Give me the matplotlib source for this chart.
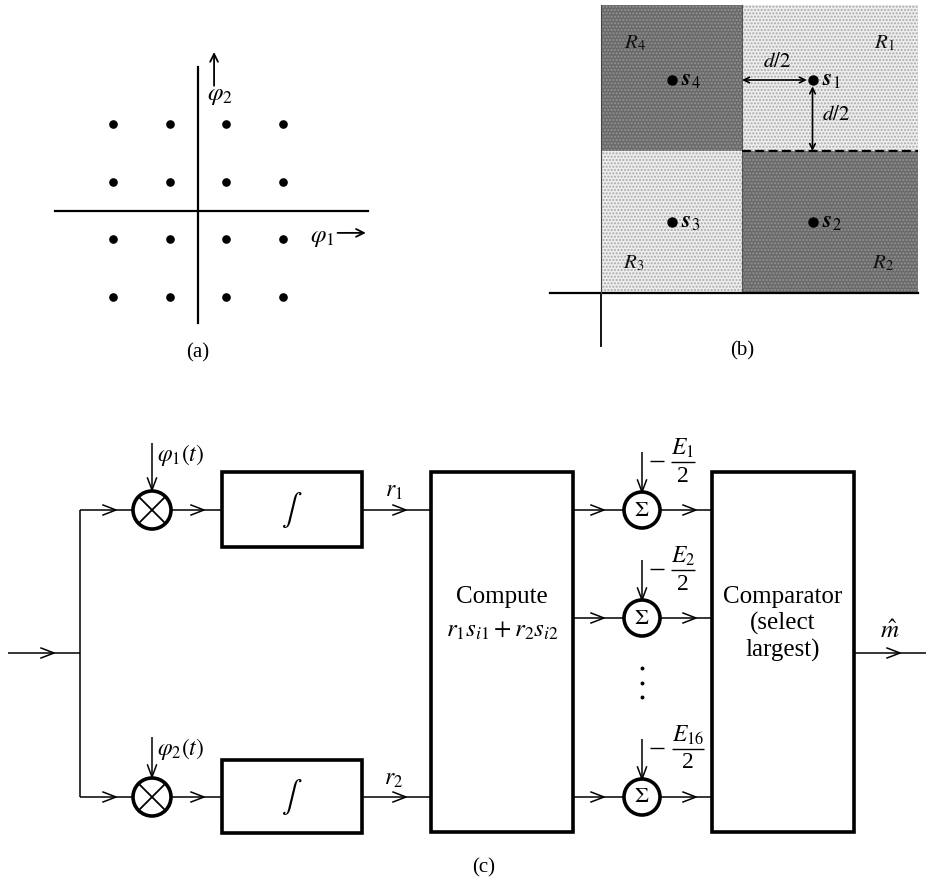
import matplotlib
matplotlib.use("Agg")
import matplotlib.pyplot as plt
from matplotlib.patches import Rectangle, Circle

plt.rcParams['font.family'] = ['Liberation Serif', 'DejaVu Serif']
plt.rcParams['mathtext.fontset'] = 'stix'

# ---------------- data ----------------
levels = [-3, -1, 1, 3]                     # 16-QAM amplitude levels (a)
region_x_edges = [0.0, 1.0, 2.25]           # decision region grid (b), units of d
region_y_edges = [0.0, 1.0, 2.03]
region_dark = [[False, True], [True, False]]  # [col][row]
points_b = [(1.5, 1.5), (1.5, 0.5), (0.5, 0.5), (0.5, 1.5)]
point_names = [r'$\mathbfit{s}_1$', r'$\mathbfit{s}_2$', r'$\mathbfit{s}_3$', r'$\mathbfit{s}_4$']
region_names = [r'$R_1$', r'$R_2$', r'$R_3$', r'$R_4$']
region_label_pos = [(2.01, 1.76), (2.00, 0.21), (0.23, 0.21), (0.24, 1.76)]
sum_labels = [r'$E_1$', r'$E_2$', r'$E_{16}$']
basis_labels = [r'$\varphi_1(t)$', r'$\varphi_2(t)$']
corr_labels = [r'$r_1$', r'$r_2$']

W, H = 926, 883
fig = plt.figure(figsize=(W / 100, H / 100), dpi=100)
ax = fig.add_axes([0, 0, 1, 1])
ax.set_xlim(0, W)
ax.set_ylim(H, 0)
ax.axis('off')

K = 'black'
THIN = 1.1
THICK = 2.6


def panel_axes(px0, py0, px1, py1, xlim, ylim):
    a = fig.add_axes([px0 / W, 1 - py1 / H, (px1 - px0) / W, (py1 - py0) / H])
    a.set_xlim(*xlim)
    a.set_ylim(*ylim)
    a.axis('off')
    return a


# ---------------- (a) ----------------
sx, sy = 28.2, 28.7
aa = panel_axes(40, 0, 400, 360, ((40 - 198) / sx, (400 - 198) / sx),
                ((210.5 - 360) / sy, 210.5 / sy))
aa.plot([-5.07, 6.03], [0, 0], color=K, lw=1.6)
aa.plot([0, 0], [-3.92, 5.0], color=K, lw=1.6)
for lx in levels:
    for ly in levels:
        aa.plot(lx, ly, 'o', color=K, ms=5.2)
aa.annotate('', xy=(0.57, 5.62), xytext=(0.57, 4.25),
            arrowprops=dict(arrowstyle='->', color=K, lw=1.3, mutation_scale=14))
aa.text(0.32, 4.0, r'$\varphi_2$', fontsize=18, ha='left', va='center')
aa.annotate('', xy=(6.05, -0.78), xytext=(4.85, -0.78),
            arrowprops=dict(arrowstyle='->', color=K, lw=1.3, mutation_scale=14))
aa.text(4.4, -0.95, r'$\varphi_1$', fontsize=18, ha='center', va='center')
aa.text(0, -4.97, '(a)', fontsize=15, ha='center', va='center')

# ---------------- (b) ----------------
ux, uy = 141.0, 142.0
ab = panel_axes(540, 0, 926, 360, ((540 - 601) / ux, (926 - 601) / ux),
                ((293 - 360) / uy, 293 / uy))
for ci in range(2):
    for ri in range(2):
        x0, x1 = region_x_edges[ci], region_x_edges[ci + 1]
        y0, y1 = region_y_edges[ri], region_y_edges[ri + 1]
        if region_dark[ci][ri]:
            fc, hc = '#6a6a6a', '#939393'
        else:
            fc, hc = '#eeeeee', '#a8a8a8'
        ab.add_patch(Rectangle((x0, y0), x1 - x0, y1 - y0, facecolor=fc,
                               edgecolor=hc, lw=0, hatch='.....'))
ab.plot([1, 1], [0, 2.03], color='#555555', lw=0.8)
ab.plot([1.0, 2.25], [1, 1], color=K, lw=1.6, ls=(0, (4, 2)))
ab.plot([-0.36, 2.25], [0, 0], color=K, lw=1.6)
ab.plot([0, 0], [-0.37, 0], color=K, lw=1.3)
ab.plot([0, 0], [0, 2.03], color='#444444', lw=0.8)
for (px, py), nm in zip(points_b, point_names):
    ab.plot(px, py, 'o', color=K, ms=6.5)
    ab.text(px + 0.065, py, nm, fontsize=17, ha='left', va='center')
for (px, py), nm in zip(region_label_pos, region_names):
    ab.text(px, py, nm, fontsize=15, ha='center', va='center', color='#111111')
ab.annotate('', xy=(1.0, 1.5), xytext=(1.46, 1.5),
            arrowprops=dict(arrowstyle='<->', color=K, lw=1.2, mutation_scale=10,
                            shrinkA=0, shrinkB=0))
ab.text(1.25, 1.62, r'$d/2$', fontsize=15, ha='center', va='center')
ab.annotate('', xy=(1.5, 1.0), xytext=(1.5, 1.455),
            arrowprops=dict(arrowstyle='<->', color=K, lw=1.2, mutation_scale=10,
                            shrinkA=0, shrinkB=0))
ab.text(1.67, 1.25, r'$d/2$', fontsize=15, ha='center', va='center')
ab.text(1.0, -0.41, '(b)', fontsize=15, ha='center', va='center')


# ---------------- (c) ----------------
def line(xs, ys, lw=THIN):
    ax.plot(xs, ys, color=K, lw=lw, solid_capstyle='butt')


def chev_right(x, y, L=13, h=5):
    ax.plot([x - L, x, x - L], [y - h, y, y + h], color=K, lw=THIN)


def chev_down(x, y, L=12, h=4.5):
    ax.plot([x - h, x, x + h], [y - L, y, y - L], color=K, lw=THIN)


def box(x0, y0, x1, y1):
    ax.add_patch(Rectangle((x0, y0), x1 - x0, y1 - y0, fill=False,
                           edgecolor=K, lw=THICK))


def mult(cx, cy, r=19):
    ax.add_patch(Circle((cx, cy), r, fill=False, edgecolor=K, lw=THICK))
    d = r * 0.707
    line([cx - d, cx + d], [cy - d, cy + d], lw=1.3)
    line([cx - d, cx + d], [cy + d, cy - d], lw=1.3)


def summer(cx, cy, r=18):
    ax.add_patch(Circle((cx, cy), r, fill=False, edgecolor=K, lw=THICK))
    ax.text(cx, cy + 1, r'$\Sigma$', fontsize=16, ha='center', va='center')


yin = 653
line([8, 80], [yin, yin])
chev_right(54, yin)

rows_y = [510, 797]
comp_x0, comp_x1 = 431, 573
cmp_x0, cmp_x1 = 712, 854
box_top, box_bot = 472, 832
int_x0, int_x1 = 222, 362
int_half = [(472, 547), (760, 833)]
line([80, 80], [rows_y[0], rows_y[1]])

for i, y in enumerate(rows_y):
    mx = 152
    line([80, mx - 19], [y, y])
    chev_right(116, y)
    mult(mx, y)
    # basis input
    top = y - 67 if i == 0 else y - 60
    line([mx, mx], [top, y - 20])
    chev_down(mx, y - 20)
    ax.text(mx + 5, top + 12, basis_labels[i], fontsize=17, ha='left', va='center')
    line([mx + 19, int_x0], [y, y])
    chev_right(204, y)
    y0b, y1b = int_half[i]
    box(int_x0, y0b, int_x1, y1b)
    ax.text((int_x0 + int_x1) / 2, y, r'$\int$', fontsize=22, ha='center', va='center')
    line([int_x1, comp_x0], [y, y])
    chev_right(406, y)
    ax.text(394, y - 18, corr_labels[i], fontsize=17, ha='center', va='center')

box(comp_x0, box_top, comp_x1, box_bot)
ax.text((comp_x0 + comp_x1) / 2, 597, 'Compute', fontsize=18, ha='center', va='center')
ax.text((comp_x0 + comp_x1) / 2, 631, r'$r_1s_{i1}+r_2s_{i2}$', fontsize=18,
        ha='center', va='center')

sum_y = [510, 618, 797]
sx_c = 642
for lab, y in zip(sum_labels, sum_y):
    line([comp_x1, sx_c - 18], [y, y])
    chev_right(604, y)
    summer(sx_c, y)
    line([sx_c + 18, cmp_x0], [y, y])
    chev_right(696, y)
    bar = y - 48
    line([sx_c, sx_c], [bar - 10, y - 18])
    chev_down(sx_c, y - 18)
    line([650, 664], [bar - 1, bar - 1], lw=1.0)
    bw = 12 if lab != r'$E_{16}$' else 16
    xc = 683 if lab != r'$E_{16}$' else 688
    line([xc - bw, xc + bw], [bar, bar], lw=1.0)
    ax.text(xc, bar - 14, lab, fontsize=17, ha='center', va='center')
    ax.text(xc, bar + 14, '2', fontsize=17, ha='center', va='center')

for y in [668, 683, 697]:
    ax.plot(sx_c, y, 'o', color=K, ms=1.8)

box(cmp_x0, box_top, cmp_x1, box_bot)
cx = (cmp_x0 + cmp_x1) / 2
ax.text(cx, 597, 'Comparator', fontsize=18, ha='center', va='center')
ax.text(cx, 623, '(select', fontsize=18, ha='center', va='center')
ax.text(cx, 650, 'largest)', fontsize=18, ha='center', va='center')
line([cmp_x1, 926], [yin, yin])
chev_right(900, yin)
ax.text(890, 632, r'$\hat{m}$', fontsize=18, ha='center', va='center')

ax.text(484, 868, '(c)', fontsize=15, ha='center', va='center')

fig.savefig('out.png', dpi=100)
